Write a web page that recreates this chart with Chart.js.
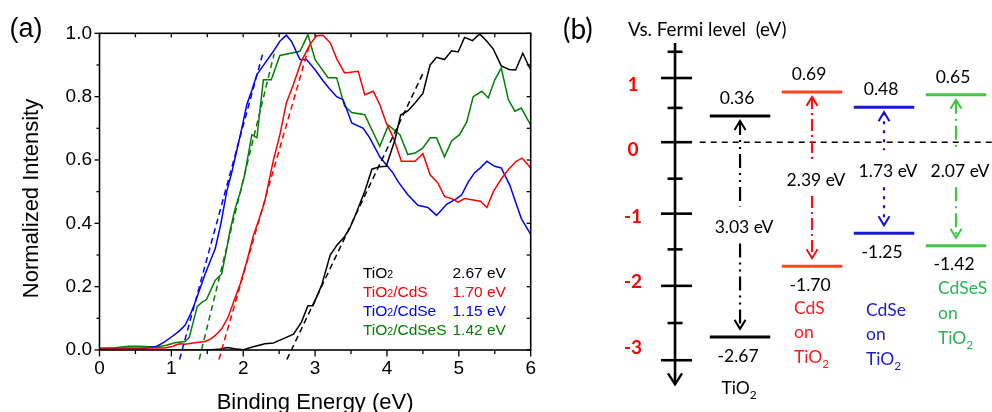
<!DOCTYPE html>
<html>
<head>
<meta charset="utf-8">
<script src="https://cdn.jsdelivr.net/npm/chart.js@4.4.1/dist/chart.umd.min.js"></script>
<style>
  html, body { margin: 0; padding: 0; background: #fff; }
  #wrap { position: relative; width: 992px; height: 412px; overflow: hidden; }
  .pane { position: absolute; top: 0; height: 412px; }
</style>
</head>
<body>
<div id="wrap">
  <div class="pane" style="left:0;width:550px"><canvas id="spec"></canvas></div>
  <div class="pane" style="left:550px;width:442px"><canvas id="levels"></canvas></div>
</div>
<script>
// ---------- (a) normalized valence-band spectra ----------
const tio2E = [0, 0.5, 1.0, 1.5, 1.65, 1.78, 1.88, 2.0, 2.14, 2.3, 2.42, 2.56, 2.7, 2.81, 2.9, 2.97, 3.09, 3.21, 3.3, 3.4, 3.48, 3.55, 3.62, 3.69, 3.79, 3.9, 3.99, 4.11, 4.19, 4.29, 4.39, 4.5, 4.6, 4.69, 4.8, 4.9, 4.99, 5.08, 5.19, 5.29, 5.39, 5.48, 5.59, 5.7, 5.79, 5.89, 6.0];
const tio2I = [0, 0, 0, 0, 0.002, 0.008, 0.004, 0.001, 0.01, 0.02, 0.022, 0.036, 0.05, 0.088, 0.14, 0.14, 0.204, 0.3, 0.33, 0.355, 0.383, 0.42, 0.46, 0.5, 0.571, 0.579, 0.58, 0.663, 0.742, 0.755, 0.78, 0.81, 0.9, 0.924, 0.917, 0.945, 0.941, 0.987, 0.977, 0.998, 0.975, 0.95, 0.897, 0.886, 0.884, 0.937, 0.884];

const cdsE = [0, 0.5, 0.9, 1.0, 1.05, 1.12, 1.19, 1.3, 1.47, 1.55, 1.61, 1.7, 1.79, 1.88, 1.96, 2.05, 2.14, 2.23, 2.3, 2.42, 2.51, 2.6, 2.7, 2.81, 2.93, 3.02, 3.11, 3.21, 3.3, 3.41, 3.6, 3.69, 3.81, 3.9, 3.99, 4.09, 4.2, 4.39, 4.5, 4.6, 4.71, 4.8, 4.9, 4.99, 5.08, 5.22, 5.3, 5.39, 5.48, 5.59, 5.69, 5.8, 5.88, 6.0];
const cdsI = [0.006, 0.006, 0.006, 0.01, 0.015, 0.02, 0.018, 0.022, 0.027, 0.035, 0.046, 0.067, 0.104, 0.16, 0.21, 0.28, 0.36, 0.42, 0.47, 0.6, 0.68, 0.78, 0.84, 0.912, 0.965, 0.992, 0.994, 0.97, 0.92, 0.875, 0.88, 0.806, 0.817, 0.775, 0.717, 0.67, 0.596, 0.596, 0.62, 0.553, 0.527, 0.485, 0.478, 0.467, 0.478, 0.473, 0.47, 0.45, 0.5, 0.54, 0.57, 0.596, 0.606, 0.575];

const cdseE = [0, 0.3, 0.6, 0.7, 0.8, 0.9, 1.0, 1.1, 1.19, 1.26, 1.33, 1.4, 1.47, 1.54, 1.61, 1.69, 1.77, 1.84, 1.91, 1.98, 2.05, 2.12, 2.19, 2.3, 2.41, 2.51, 2.6, 2.67, 2.79, 2.88, 3.0, 3.11, 3.2, 3.3, 3.39, 3.51, 3.67, 3.76, 3.9, 3.99, 4.08, 4.16, 4.29, 4.43, 4.57, 4.69, 4.83, 4.97, 5.04, 5.13, 5.22, 5.3, 5.39, 5.5, 5.59, 5.71, 5.8, 5.87, 6.0];
const cdseI = [0.003, 0.004, 0.005, 0.008, 0.012, 0.025, 0.041, 0.058, 0.078, 0.11, 0.15, 0.195, 0.24, 0.28, 0.32, 0.4, 0.5, 0.56, 0.63, 0.7, 0.775, 0.82, 0.87, 0.905, 0.94, 0.975, 0.994, 0.975, 0.917, 0.917, 0.885, 0.85, 0.825, 0.8, 0.79, 0.717, 0.7, 0.67, 0.61, 0.585, 0.56, 0.53, 0.49, 0.457, 0.45, 0.425, 0.46, 0.478, 0.49, 0.53, 0.56, 0.575, 0.596, 0.58, 0.575, 0.52, 0.46, 0.415, 0.365];

const cdsesE = [0, 0.2, 0.4, 0.55, 0.7, 0.82, 0.93, 1.05, 1.19, 1.25, 1.3, 1.36, 1.42, 1.49, 1.55, 1.61, 1.7, 1.77, 1.81, 1.88, 1.96, 2.02, 2.12, 2.19, 2.28, 2.39, 2.51, 2.79, 2.9, 3.0, 3.18, 3.3, 3.41, 3.51, 3.69, 3.9, 4.02, 4.18, 4.29, 4.39, 4.5, 4.6, 4.69, 4.8, 4.9, 5.01, 5.11, 5.2, 5.32, 5.41, 5.5, 5.59, 5.69, 5.78, 5.87, 6.0];
const cdsesI = [0.003, 0.006, 0.012, 0.012, 0.01, 0.01, 0.015, 0.023, 0.027, 0.04, 0.085, 0.137, 0.15, 0.16, 0.19, 0.22, 0.24, 0.32, 0.37, 0.44, 0.5, 0.553, 0.68, 0.67, 0.853, 0.853, 0.93, 0.943, 0.996, 0.917, 0.86, 0.86, 0.77, 0.75, 0.743, 0.643, 0.71, 0.68, 0.617, 0.622, 0.638, 0.67, 0.67, 0.61, 0.66, 0.68, 0.72, 0.8, 0.817, 0.796, 0.853, 0.89, 0.79, 0.754, 0.764, 0.71];

// band-edge onsets (eV) and the upper end of each linear fit
const seriesNames = ['TiO2', 'TiO2/CdS', 'TiO2/CdSe', 'TiO2/CdSeS'];
const onsetEV = [2.67, 1.70, 1.15, 1.42];
const fitTopE = [4.50, 2.93, 2.28, 2.43];
const fitTopI = [0.873, 0.97, 0.943, 0.935];

const xTickVals = [0, 1, 2, 3, 4, 5, 6];
const yTickVals = [0, 0.2, 0.4, 0.6, 0.8, 1.0];

// ---------- (b) band positions vs. Fermi level ----------
const materials = ['TiO2', 'CdS', 'CdSe', 'CdSeS'];
const cbLevel = [0.36, 0.69, 0.48, 0.65];
const vbLevel = [-2.67, -1.70, -1.25, -1.42];
const fermiMajorTicks = [0.88, 0, -0.98, -1.97, -2.99];
const fermiMinorTicks = [1.24, 0.47, -0.5, -1.47, -2.48];
const fermiTickText = ['1', '0', '-1', '-2', '-3'];

// ---------- styling ----------
const specColors = ['#000000', '#ff0000', '#0000ff', '#008000'];
const levelColors = ['#000000', '#ff4422', '#1a1ad0', '#44c844'];
const arrowColors = ['#000000', '#ff1010', '#1010d8', '#3cc83c'];
const nameColors = ['#000000', '#ff1a1a', '#1c1cd0', '#25b555'];
const arrowDash = [[14, 5, 2, 5, 2, 5], [12, 4, 2, 4], [3, 6], [14, 5, 2, 5]];
const SANS = '"Liberation Sans", Arial, sans-serif';
const CAL = 'Lato, "Open Sans", sans-serif';

function txt(ctx, s, x, y, font, color, align, baseline) {
  ctx.save();
  ctx.font = font;
  ctx.fillStyle = color;
  ctx.textAlign = align || 'left';
  ctx.textBaseline = baseline || 'middle';
  ctx.fillText(s, x, y);
  ctx.restore();
}

// "TiO2"-style label where the digit is set smaller and lowered
function chem(ctx, parts, x, y, size, family, color, align, subDrop) {
  ctx.save();
  ctx.fillStyle = color;
  ctx.textBaseline = 'alphabetic';
  ctx.textAlign = 'left';
  let w = 0;
  const pieces = parts.map(p => {
    const sz = p.sub ? size * 0.68 : size;
    ctx.font = sz + 'px ' + family;
    const pw = ctx.measureText(p.t).width;
    w += pw;
    return { t: p.t, sz, pw, sub: p.sub };
  });
  let cx = align === 'center' ? x - w / 2 : (align === 'right' ? x - w : x);
  pieces.forEach(p => {
    ctx.font = p.sz + 'px ' + family;
    ctx.fillText(p.t, cx, y + (p.sub ? subDrop : 0));
    cx += p.pw;
  });
  ctx.restore();
}

function splitChem(s) {
  // "TiO2/CdSe" -> TiO, 2(sub), /CdSe
  const out = [];
  const re = /(\d)/g;
  let last = 0, m;
  while ((m = re.exec(s)) !== null) {
    if (m.index > last) out.push({ t: s.slice(last, m.index) });
    out.push({ t: m[1], sub: true });
    last = m.index + 1;
  }
  if (last < s.length) out.push({ t: s.slice(last) });
  return out;
}

function seg(ctx, x1, y1, x2, y2) {
  ctx.beginPath(); ctx.moveTo(x1, y1); ctx.lineTo(x2, y2); ctx.stroke();
}

// ---------- (a) chart ----------
const specSets = [
  [tio2E, tio2I], [cdsE, cdsI], [cdseE, cdseI], [cdsesE, cdsesI]
].map(([e, v], i) => ({
  label: seriesNames[i],
  data: e.map((x, k) => ({ x, y: v[k] })),
  showLine: true,
  borderColor: specColors[i],
  borderWidth: 1.5,
  pointRadius: 0,
  tension: 0,
  order: 2
}));

const FIT_FLOOR = -0.03;
const fitSets = onsetEV.map((e0, i) => {
  const slope = fitTopI[i] / (fitTopE[i] - e0);
  return {
    label: seriesNames[i] + ' fit',
    data: [{ x: e0 + FIT_FLOOR / slope, y: FIT_FLOOR }, { x: fitTopE[i], y: fitTopI[i] }],
    showLine: true,
    borderColor: specColors[i],
    borderWidth: 1.5,
    borderDash: [6, 4],
    pointRadius: 0,
    clip: false,
    order: 1
  };
});

const specDecor = {
  id: 'specDecor',
  afterDraw(chart) {
    const { ctx, chartArea: a } = chart;
    const xs = chart.scales.x, ys = chart.scales.y;
    ctx.save();
    ctx.strokeStyle = '#000';
    ctx.lineWidth = 1.6;
    ctx.setLineDash([]);
    ctx.strokeRect(a.left, a.top, a.right - a.left, a.bottom - a.top);
    ctx.lineWidth = 1.3;
    // left (outward) and right (inward) ticks
    for (let k = 0; k <= 10; k++) {
      const v = k / 10, y = ys.getPixelForValue(v);
      const major = k % 2 === 0;
      seg(ctx, a.left, y, a.left - (major ? 5 : 3), y);
      seg(ctx, a.right, y, a.right - 4, y);
    }
    // bottom (outward) and top (inward) ticks
    for (let k = 0; k <= 12; k++) {
      const v = k / 2, x = xs.getPixelForValue(v);
      const major = k % 2 === 0;
      seg(ctx, x, a.bottom, x, a.bottom + (major ? 6.5 : 4));
      seg(ctx, x, a.top, x, a.top + 4);
    }
    ctx.restore();

    const tickFont = '19px ' + SANS;
    yTickVals.forEach(v => txt(ctx, v.toFixed(1), a.left - 7.5, ys.getPixelForValue(v), tickFont, '#000', 'right', 'middle'));
    xTickVals.forEach(v => txt(ctx, String(v), xs.getPixelForValue(v), a.bottom + 18.5, tickFont, '#000', 'center', 'middle'));

    txt(ctx, 'Binding Energy (eV)', (a.left + a.right) / 2, a.bottom + 59, '22px ' + SANS, '#000', 'center', 'alphabetic');
    ctx.save();
    ctx.translate(37.5, 198.5);
    ctx.rotate(-Math.PI / 2);
    txt(ctx, 'Normalized Intensity', 0, 0, '22px ' + SANS, '#000', 'center', 'alphabetic');
    ctx.restore();
    txt(ctx, '(a)', 9.5, 37, '27px ' + SANS, '#000', 'left', 'alphabetic');

    // onset table
    const lx = xs.getPixelForValue(3.665), rx = xs.getPixelForValue(5.655);
    const y0 = ys.getPixelForValue(0.246);
    seriesNames.forEach((n, i) => {
      const y = y0 + i * 19 + 5.5;
      chem(ctx, splitChem(n), lx, y, 15.5, SANS, specColors[i], 'left', 0.5);
      txt(ctx, onsetEV[i].toFixed(2) + ' eV', rx, y, '15.5px ' + SANS, specColors[i], 'right', 'alphabetic');
    });
  }
};

new Chart(document.getElementById('spec'), {
  type: 'scatter',
  data: { datasets: [...specSets, ...fitSets] },
  options: {
    responsive: true,
    maintainAspectRatio: false,
    animation: false,
    devicePixelRatio: 1,
    events: [],
    layout: { padding: { left: 0, right: 19.3, top: 33.3, bottom: 0 } },
    plugins: { legend: { display: false }, tooltip: { enabled: false } },
    scales: {
      x: { type: 'linear', min: 0, max: 6, grid: { display: false }, border: { display: false },
           ticks: { display: false }, afterFit(s) { s.height = 62; } },
      y: { type: 'linear', min: 0, max: 1, grid: { display: false }, border: { display: false },
           ticks: { display: false }, afterFit(s) { s.width = 99.5; } }
    }
  },
  plugins: [specDecor]
});

// ---------- (b) chart ----------
const AXIS_C = 0.097;
const HALF = 0.42;
const levelSets = [];
materials.forEach((m, i) => {
  const c = i + 1;
  [cbLevel[i], vbLevel[i]].forEach((lv, j) => {
    levelSets.push({
      label: m + (j ? ' VB' : ' CB'),
      data: [{ x: c - HALF, y: lv }, { x: c + HALF, y: lv }],
      showLine: true,
      borderColor: levelColors[i],
      borderWidth: 3,
      pointRadius: 0,
      borderCapStyle: 'butt'
    });
  });
});
levelSets.push({
  label: 'Fermi level',
  data: [{ x: 0.44, y: 0 }, { x: 4.5, y: 0 }],
  showLine: true, borderColor: '#000', borderWidth: 1.5, borderDash: [6, 5], pointRadius: 0
});
levelSets.push({
  label: 'energy axis',
  data: [{ x: AXIS_C, y: 1.36 }, { x: AXIS_C, y: -3.32 }],
  showLine: true, borderColor: '#000', borderWidth: 2.6, pointRadius: 0, borderCapStyle: 'butt'
});

function chevron(ctx, x, tipY, dir, hw, h) {
  // dir = -1 points up, +1 points down
  ctx.beginPath();
  ctx.moveTo(x - hw, tipY - dir * h);
  ctx.lineTo(x, tipY);
  ctx.lineTo(x + hw, tipY - dir * h);
  ctx.stroke();
}

const levelDecor = {
  id: 'levelDecor',
  afterDatasetsDraw(chart) {
    const ctx = chart.ctx;
    const xs = chart.scales.x, ys = chart.scales.y;
    const ax = xs.getPixelForValue(AXIS_C);

    ctx.save();
    ctx.strokeStyle = '#000';
    ctx.lineWidth = 2.6;
    ctx.lineCap = 'butt';
    fermiMajorTicks.forEach(v => { const y = ys.getPixelForValue(v); seg(ctx, ax - 14, y, ax + 17, y); });
    fermiMinorTicks.forEach(v => { const y = ys.getPixelForValue(v); seg(ctx, ax - 7.5, y, ax + 7.5, y); });
    ctx.lineWidth = 2.4;
    chevron(ctx, ax, ys.getPixelForValue(-3.32), 1, 7, 11);
    ctx.restore();

    const labelPix = [85, 150, 217, 282, 348];
    fermiTickText.forEach((t, k) => txt(ctx, t, ax - 42, labelPix[k], 'bold 19px ' + CAL, '#ff0000', 'center', 'middle'));

    txt(ctx, '(b)', 13, 39, '28px ' + CAL, '#000', 'left', 'alphabetic');
    txt(ctx, 'Vs. Fermi level  (eV)', 78, 30, '18.8px ' + CAL, '#000', 'left', 'middle');

    const nameDrop = [51, 42, 77, 43];
    materials.forEach((m, i) => {
      const x = xs.getPixelForValue(i + 1);
      const yc = ys.getPixelForValue(cbLevel[i]);
      const yv = ys.getPixelForValue(vbLevel[i]);
      const ym = ys.getPixelForValue((cbLevel[i] + vbLevel[i]) / 2) + 1;
      const gap = cbLevel[i] - vbLevel[i];

      // band-gap arrow, broken around its label
      ctx.save();
      ctx.strokeStyle = arrowColors[i];
      ctx.lineWidth = 2.2;
      ctx.lineCap = 'butt';
      const tipT = yc + 5, tipB = yv - 8;
      ctx.setLineDash(arrowDash[i]);
      seg(ctx, x, tipT, x, ym - 21);
      seg(ctx, x, ym + 16, x, tipB);
      ctx.setLineDash([]);
      ctx.lineWidth = 2;
      chevron(ctx, x, tipT, -1, 5.5, 9);
      chevron(ctx, x, tipB, 1, 5.5, 9);
      ctx.restore();

      txt(ctx, gap.toFixed(2) + ' eV', x + 4, ym, '17.5px ' + CAL, '#000', 'center', 'middle');
      txt(ctx, cbLevel[i].toFixed(2), x - 3, yc - 17.5, '17.5px ' + CAL, '#000', 'center', 'middle');
      txt(ctx, vbLevel[i].toFixed(2), x - 2, yv + 19, '17.5px ' + CAL, '#000', 'center', 'middle');

      const top = yv + nameDrop[i];
      if (i === 0) {
        chem(ctx, [{ t: 'TiO' }, { t: '2', sub: true }], x - 1, top + 6, 17.5, CAL, nameColors[i], 'center', 5);
      } else {
        const lx = x - 18;
        txt(ctx, m, lx, top, '17.5px ' + CAL, nameColors[i], 'left', 'middle');
        txt(ctx, 'on', lx, top + 24.5, '17.5px ' + CAL, nameColors[i], 'left', 'middle');
        chem(ctx, [{ t: 'TiO' }, { t: '2', sub: true }], lx, top + 49 + 6, 17.5, CAL, nameColors[i], 'left', 5);
      }
    });
  }
};

new Chart(document.getElementById('levels'), {
  type: 'scatter',
  data: { datasets: levelSets },
  options: {
    responsive: true,
    maintainAspectRatio: false,
    animation: false,
    devicePixelRatio: 1,
    events: [],
    layout: { padding: 0 },
    plugins: { legend: { display: false }, tooltip: { enabled: false } },
    scales: {
      x: { type: 'linear', display: false, min: -1.64, max: 4.5 },
      y: { type: 'linear', display: false, min: -3.7, max: 1.95 }
    }
  },
  plugins: [levelDecor]
});
</script>
</body>
</html>
